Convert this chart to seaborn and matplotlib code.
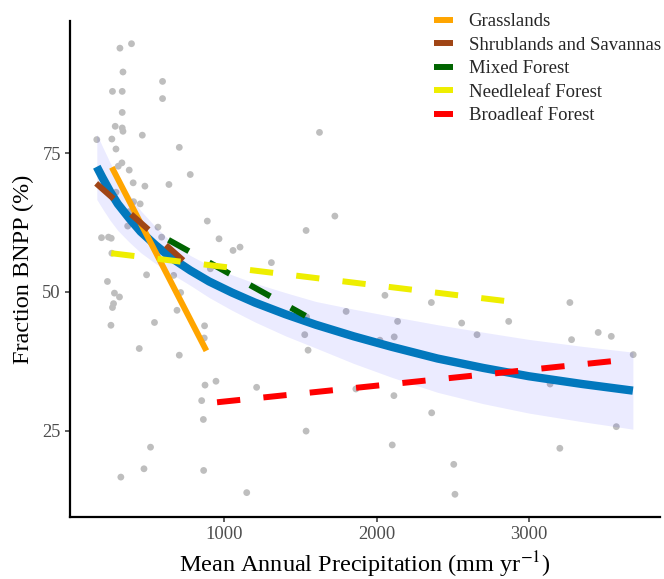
import numpy as np
import pandas as pd
import matplotlib
matplotlib.use('Agg')
import matplotlib.pyplot as plt
from matplotlib.lines import Line2D
import seaborn as sns

# Site observations (mean annual precipitation, fraction BNPP)
map_mm = [314, 390, 334, 265, 329, 594, 594, 329, 283, 329, 334, 461, 162, 261, 288,
          704, 327, 303, 375, 776, 401, 478, 636, 288, 404, 447, 375, 888, 564, 365,
          588, 193, 239, 257, 965, 1057, 1103, 261, 1309, 489, 667, 232, 278, 311, 713,
          265, 272, 689, 541, 255, 870, 868, 441, 704, 945, 873, 1212, 851, 862, 1537,
          515, 472, 864, 320, 1147, 1625, 1726, 1537, 2055, 2360, 3270, 1800, 2138, 2559,
          2868, 3456, 3542, 3281, 1528, 2116, 2022, 2660, 1550, 3686, 3140, 1864, 2114,
          2362, 3575, 2103, 3204, 2507, 2515, 908, 1540]
bnpp = [94.0, 94.8, 89.7, 86.2, 86.2, 88.0, 84.9, 82.4, 79.9, 79.6, 79.0, 78.3, 77.5, 77.6, 75.8,
        76.1, 73.3, 72.7, 72.0, 71.2, 69.7, 69.1, 69.4, 68.0, 66.3, 65.9, 64.5, 62.8, 61.7, 61.9,
        59.9, 59.8, 59.9, 59.7, 59.6, 57.5, 58.1, 57.0, 55.3, 53.1, 53.0, 51.9, 49.8, 49.1, 49.9,
        47.2, 47.9, 46.7, 44.5, 44.0, 43.9, 41.7, 39.8, 38.6, 33.9, 33.2, 32.8, 30.4, 27.0, 24.9,
        22.0, 18.1, 17.8, 16.6, 13.8, 78.8, 63.7, 61.1, 49.4, 48.1, 48.1, 46.5, 44.7, 44.4,
        44.7, 42.7, 42.0, 41.4, 42.3, 41.9, 41.3, 42.3, 39.5, 38.7, 33.4, 32.5, 31.3,
        28.2, 25.7, 22.4, 21.8, 18.9, 13.5, 54.2, 45.5]

# Overall fit with confidence band
fit_x = [162, 200, 250, 300, 375, 450, 550, 650, 776, 900, 1050, 1200, 1400, 1600,
         1850, 2100, 2400, 2700, 3000, 3350, 3684]
fit_y = [72.6, 70.6, 68.1, 65.9, 63.3, 60.9, 58.4, 56.2, 53.9, 51.9, 49.9, 48.1, 46.0, 44.1,
         42.0, 40.1, 38.0, 36.3, 34.8, 33.4, 32.2]
fit_hi = [78.5, 76.2, 73.3, 70.7, 67.6, 64.7, 61.7, 59.1, 56.6, 54.8, 53.1, 51.6, 49.9, 48.3,
          46.9, 45.6, 44.1, 42.75, 41.45, 40.2, 39.15]
fit_lo = [66.7, 65.0, 62.9, 61.1, 59.0, 57.1, 55.1, 53.3, 51.2, 49.0, 46.7, 44.6, 42.1, 39.9,
          37.1, 34.6, 31.9, 29.85, 28.15, 26.6, 25.25]

# Biome-specific fits (start/end of each line)
biomes = ['Grasslands', 'Shrublands and Savannas', 'Mixed Forest',
          'Needleleaf Forest', 'Broadleaf Forest']
biome_x0 = [261, 158, 633, 257, 952]
biome_x1 = [882, 730, 1533, 2838, 3540]
biome_y0 = [72.5, 69.6, 59.4, 57.0, 30.1]
biome_y1 = [39.4, 55.7, 45.7, 48.4, 37.5]

biome_colors = ['#FFA500', '#A04515', '#006400', '#EEEE00', '#FF0000']
biome_dashes = ['', (3.9, 3.9), (3.9, 3.9), (3.9, 3.9), (3.9, 3.9)]

sns.set_theme(style='white')
plt.rcParams['font.family'] = ['Liberation Serif', 'DejaVu Serif']
plt.rcParams['mathtext.fontset'] = 'stix'

pts = pd.DataFrame({'MAP': map_mm, 'BNPP': bnpp})
fit = pd.DataFrame({'MAP': fit_x, 'BNPP': fit_y, 'lo': fit_lo, 'hi': fit_hi})
lines = pd.DataFrame({
    'biome': np.repeat(biomes, 2),
    'MAP': np.ravel(np.column_stack([biome_x0, biome_x1])),
    'BNPP': np.ravel(np.column_stack([biome_y0, biome_y1])),
})

fig = plt.figure(figsize=(6.64, 5.79), dpi=100)
ax = fig.add_axes([70 / 664, 1 - 517 / 579, 590 / 664, 496 / 579])

sns.scatterplot(data=pts, x='MAP', y='BNPP', color='#BEBEBE', s=24,
                edgecolor='none', ax=ax, zorder=1)
ax.fill_between(fit['MAP'], fit['lo'], fit['hi'], color='blue', alpha=0.08,
                linewidth=0, zorder=2)
sns.lineplot(data=fit, x='MAP', y='BNPP', color='#0278BD', linewidth=6,
             solid_capstyle='butt', solid_joinstyle='round', ax=ax, zorder=3)
sns.lineplot(data=lines, x='MAP', y='BNPP', hue='biome', style='biome',
             hue_order=biomes, style_order=biomes,
             palette=dict(zip(biomes, biome_colors)),
             dashes=dict(zip(biomes, biome_dashes)),
             linewidth=4.3, solid_capstyle='butt', dash_capstyle='butt',
             legend=False, ax=ax, zorder=4)

ax.set_xlim(-14, 3862)
ax.set_ylim(9.4, 98.9)
ax.set_xticks([1000, 2000, 3000])
ax.set_yticks([25, 50, 75])

for side in ['top', 'right']:
    ax.spines[side].set_visible(False)
for side in ['left', 'bottom']:
    ax.spines[side].set_color('black')
    ax.spines[side].set_linewidth(1.6)
ax.tick_params(axis='both', which='major', direction='out', length=3.5, width=1.1,
               color='#333333', labelcolor='#4D4D4D', labelsize=13.3, pad=3,
               bottom=True, left=True)

ax.set_xlabel('Mean Annual Precipitation (mm yr$^{-1}$)', fontsize=17.5, color='black',
              labelpad=5)
ax.set_ylabel('Fraction BNPP (%)', fontsize=17.5, color='black', labelpad=6)

handles = [Line2D([0], [0], color=c, linewidth=4.3, solid_capstyle='butt')
           for c in biome_colors]
ax.legend(handles, biomes, loc='upper left', bbox_to_anchor=(434 / 664, 0.977),
          bbox_transform=fig.transFigure, frameon=False, fontsize=13.5,
          handlelength=1.0, handletextpad=0.85, labelspacing=0.34,
          borderpad=0, borderaxespad=0)

fig.savefig('out.png', dpi=100)
